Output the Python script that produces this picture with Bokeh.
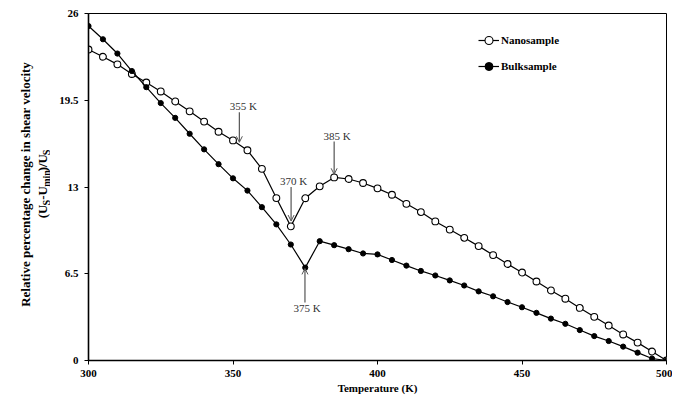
from bokeh.plotting import figure
from bokeh.models import (Range1d, FixedTicker, Label, Arrow, OpenHead, Legend, LegendItem)
from bokeh.layouts import row
from bokeh.core.properties import value
from bokeh.embed import file_html
from bokeh.resources import INLINE
import math

temperature = [300, 305, 310, 315, 320, 325, 330, 335, 340, 345, 350, 355, 360, 365, 370,
               375, 380, 385, 390, 395, 400, 405, 410, 415, 420, 425, 430, 435, 440, 445,
               450, 455, 460, 465, 470, 475, 480, 485, 490, 495, 500]
nanosample = [23.3, 22.76, 22.19, 21.47, 20.83, 20.16, 19.41, 18.67, 17.9, 17.14, 16.49, 15.75,
              14.36, 12.17, 10.05, 12.16, 13.05, 13.72, 13.6, 13.3, 12.9, 12.42, 11.74, 11.12,
              10.42, 9.81, 9.19, 8.57, 7.9, 7.23, 6.59, 5.92, 5.25, 4.63, 3.94, 3.27, 2.62,
              1.95, 1.34, 0.67, 0.0]
bulksample = [25.06, 24.07, 23.0, 21.69, 20.48, 19.29, 18.18, 16.99, 15.82, 14.71, 13.65, 12.73,
              11.49, 10.2, 8.69, 6.96, 8.94, 8.64, 8.34, 8.02, 7.95, 7.53, 7.11, 6.71, 6.37,
              6.0, 5.62, 5.18, 4.81, 4.38, 3.99, 3.57, 3.14, 2.75, 2.28, 1.83, 1.46, 1.04,
              0.59, 0.15, 0.0]
x_ticks = [300, 350, 400, 450, 500]
y_ticks = [0, 6.5, 13, 19.5, 26]
y_tick_labels = {0: "0", 6.5: "6.5", 13: "13", 19.5: "19.5", 26: "26"}
# annotations: (label, arrow x, arrow start y, arrow end y, text x, text y)
annotations = [
    ("355 K", 352.2, 18.6, 16.35, 353.6, 19.1),
    ("370 K", 370.1, 13.0, 10.45, 371.0, 13.45),
    ("385 K", 385.0, 16.4, 13.95, 386.0, 16.85),
    ("375 K", 374.9, 4.35, 6.9, 375.6, 3.95),
]
x_title = "Temperature (K)"
y_title_1 = "Relative percentage change in shear velocity"
# second title line with subscripts: (U_S-U_min)/U_S
y_title_2 = [("(U", False), ("S", True), ("-U", False), ("min", True), (")/U", False), ("S", True)]

FONT = "Liberation Serif"
H = 396
TITLE_W = 50
TOP, BOTTOM = 13, 36

# ---- main chart ----
p = figure(width=672 - TITLE_W, height=H, output_backend="svg", toolbar_location=None,
           x_range=Range1d(300, 500), y_range=Range1d(0, 26),
           min_border_left=88 - TITLE_W, min_border_right=6, min_border_top=TOP,
           min_border_bottom=BOTTOM)
p.grid.visible = False
p.outline_line_color = "black"
p.outline_line_width = 1
p.background_fill_color = "white"
p.border_fill_color = "white"

for ax in (p.xaxis[0], p.yaxis[0]):
    ax.axis_line_width = 1.6
    ax.axis_line_color = "black"
    ax.major_tick_in = 0
    ax.major_tick_out = 4
    ax.major_tick_line_color = "black"
    ax.minor_tick_line_color = None
    ax.major_label_text_font = FONT
    ax.major_label_text_font_style = "bold"
    ax.major_label_text_font_size = "11px"
    ax.major_label_text_color = "black"

p.xaxis.ticker = FixedTicker(ticks=x_ticks)
p.yaxis.ticker = FixedTicker(ticks=y_ticks)
p.yaxis.major_label_overrides = y_tick_labels
p.xaxis.major_label_standoff = 5
p.yaxis.major_label_standoff = 6
p.xaxis.axis_label = x_title
p.xaxis.axis_label_standoff = 2
p.xaxis.axis_label_text_font = FONT
p.xaxis.axis_label_text_font_style = "bold"
p.xaxis.axis_label_text_font_size = "11px"
p.xaxis.axis_label_text_color = "black"

nano_line = p.line(temperature, nanosample, line_color="black", line_width=1.2)
nano_pts = p.scatter(temperature, nanosample, size=6.8, marker="circle",
                     fill_color="white", line_color="black", line_width=1.1)
bulk_line = p.line(temperature, bulksample, line_color="black", line_width=1.2)
bulk_pts = p.scatter(temperature, bulksample, size=5.2, marker="circle",
                     fill_color="black", line_color="black", line_width=1)

frame_h = H - TOP - BOTTOM
legend = Legend(items=[LegendItem(label="Nanosample", renderers=[nano_line, nano_pts]),
                       LegendItem(label="Bulksample", renderers=[bulk_line, bulk_pts])],
                location=(390, frame_h - 63), orientation="vertical",
                glyph_width=21, glyph_height=20, label_height=20, spacing=6,
                label_standoff=2, padding=0, margin=0,
                border_line_color=None, background_fill_alpha=0,
                label_text_font=FONT, label_text_font_style="bold",
                label_text_font_size="11px", label_text_color="black")
p.add_layout(legend, "center")

for lab, ax_, ys, ye, tx, ty in annotations:
    p.add_layout(Arrow(end=OpenHead(size=6, line_color="#555555", line_width=1),
                       x_start=ax_, y_start=ys, x_end=ax_, y_end=ye,
                       line_color="#555555", line_width=1.2))
    p.add_layout(Label(x=tx, y=ty, text=lab, text_align="center", text_baseline="middle",
                       text_font=FONT, text_font_size="11px", text_color="#333333"))

# ---- y-axis title panel (pixel coordinates) ----
t = figure(width=TITLE_W, height=H, output_backend="svg", toolbar_location=None,
           x_range=Range1d(0, TITLE_W), y_range=Range1d(0, H),
           min_border=0, min_border_left=0, min_border_right=0, min_border_top=0,
           min_border_bottom=0, x_axis_location=None, y_axis_location=None)
t.grid.visible = False
t.outline_line_color = None
t.background_fill_color = "white"
t.border_fill_color = "white"

mid = H - 195
t.text(x=[25], y=[mid], text=[y_title_1], angle=math.pi / 2,
       text_align="center", text_baseline="alphabetic",
       text_font=value(FONT), text_font_style="bold", text_font_size="13px",
       text_color="black")

big, small, gap = 13.0, 10.0, 1.0
w = {"(": .333, "U": .722, "-": .333, "m": .833, "i": .278, "n": .556, ")": .333, "/": .278, "S": .556}
def width(s, sub):
    return sum(w[c] for c in s) * (small if sub else big)
total = sum(width(s, sub) for s, sub in y_title_2) + gap * (len(y_title_2) - 1)
yy = mid - total / 2
xs, ys_, txt, sizes = [], [], [], []
for s, sub in y_title_2:
    xs.append(42 + (3.5 if sub else 0))
    ys_.append(yy)
    txt.append(s)
    sizes.append(f"{small if sub else big}px")
    yy += width(s, sub) + gap
t.text(x=xs, y=ys_, text=txt, angle=math.pi / 2, text_align="left",
       text_baseline="alphabetic", text_font=value(FONT), text_font_style="bold",
       text_font_size=sizes, text_color="black")

layout = row(t, p, spacing=0)
open("out.html", "w").write(file_html(layout, INLINE))
